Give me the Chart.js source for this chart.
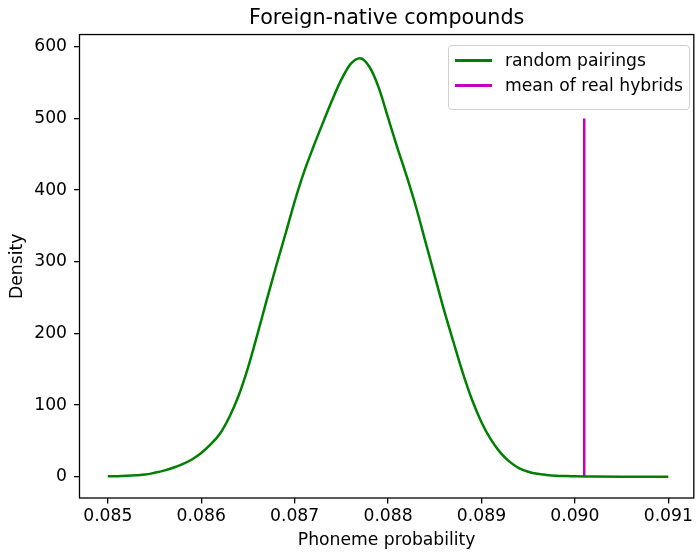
<!DOCTYPE html>
<html>
<head>
<meta charset="utf-8">
<script src="https://cdn.jsdelivr.net/npm/chart.js@4/dist/chart.umd.min.js"></script>
<style>
  body { margin: 0; background: #fff; }
  #wrap { position: relative; width: 696px; height: 555px; }
  #legend {
    position: absolute; left: 448px; top: 45px; width: 240px; height: 63px;
    border: 1px solid #d0d0d0; border-radius: 4px; background: rgba(255,255,255,0.8);
    font-family: "DejaVu Sans", sans-serif; font-size: 17.2px; color: #000;
  }
  .item { position: absolute; left: 0; height: 20px; line-height: 20px; white-space: nowrap; }
  .swatch { position: absolute; left: 6px; top: 9px; width: 37px; height: 2.5px; }
  .label { position: absolute; left: 56px; top: 0; }
</style>
</head>
<body>
<div id="wrap">
  <canvas id="myChart" width="696" height="555"></canvas>
  <div id="legend">
    <div class="item" style="top:4px"><span class="swatch" style="background:#008000"></span><span class="label">random pairings</span></div>
    <div class="item" style="top:29px"><span class="swatch" style="background:#bf00bf"></span><span class="label">mean of real hybrids</span></div>
  </div>
</div>
<script>
//KDE OF RANDOM PAIRINGS

var xValues = [0.0850, 0.0851, 0.0852, 0.0853, 0.0854, 0.0855, 0.0856, 0.0857, 0.0858, 0.0859,
  0.0860, 0.0861, 0.0862, 0.0863, 0.0864, 0.0865, 0.0866, 0.0867, 0.0868, 0.0869,
  0.0870, 0.0871, 0.0872, 0.0873, 0.0874, 0.0875, 0.0876, 0.0877, 0.0878, 0.0879,
  0.0880, 0.0881, 0.0882, 0.0883, 0.0884, 0.0885, 0.0886, 0.0887, 0.0888, 0.0889,
  0.0890, 0.0891, 0.0892, 0.0893, 0.0894, 0.0895, 0.0896, 0.0897, 0.0898, 0.0899,
  0.0900, 0.0902, 0.0905, 0.0910];
var yValues = [0.5, 0.8, 1.3, 2, 3, 5.5, 8.5, 12.5, 17.5, 24,
  33, 45, 60, 83, 113, 152, 198, 246, 293, 338,
  384, 425, 460, 493, 525, 554, 576, 584, 572, 543,
  501, 459, 419, 376, 328, 280, 232, 188, 145, 107,
  76, 52, 34, 21, 12, 7, 4, 2.5, 1.5, 1,
  0.6, 0.3, 0.1, 0];

//MEAN OF REAL HYBRIDS
var meanX = 0.0901;
var meanY = [0, 500];

var xTicks = [0.085, 0.086, 0.087, 0.088, 0.089, 0.090, 0.091];
var yTicks = [0, 100, 200, 300, 400, 500, 600];

var font = "'DejaVu Sans', sans-serif";

var boxPlugin = {
  id: "box",
  afterDatasetsDraw: function(chart) {
    var a = chart.chartArea, ctx = chart.ctx;
    ctx.save();
    ctx.strokeStyle = "#000";
    ctx.lineWidth = 1.3;
    ctx.strokeRect(a.left, a.top, a.right - a.left, a.bottom - a.top);
    ctx.restore();
  }
};

new Chart("myChart", {
  type: "scatter",
  data: {
    datasets: [{
      label: "random pairings",
      data: xValues.map(function(x, i) { return {x: x, y: yValues[i]}; }),
      showLine: true,
      borderColor: "#008000",
      borderWidth: 2.5,
      pointRadius: 0,
      cubicInterpolationMode: "monotone"
    }, {
      label: "mean of real hybrids",
      data: meanY.map(function(y) { return {x: meanX, y: y}; }),
      showLine: true,
      borderColor: "#bf00bf",
      borderWidth: 2.5,
      pointRadius: 0
    }]
  },
  options: {
    responsive: false,
    animation: false,
    layout: {padding: 0},
    plugins: {
      legend: {display: false},
      tooltip: {enabled: false},
      title: {
        display: true,
        fullSize: false,
        text: "Foreign-native compounds",
        color: "#000",
        font: {family: font, size: 20.7, weight: "normal"},
        padding: {top: 6.5, bottom: 3.2}
      }
    },
    scales: {
      x: {
        type: "linear",
        min: 0.084697,
        max: 0.091273,
        afterFit: function(axis) { axis.height = 57; },
        afterBuildTicks: function(axis) { axis.ticks = xTicks.map(function(v) { return {value: v}; }); },
        border: {display: false},
        grid: {drawOnChartArea: false, drawTicks: true, tickLength: 5.5, color: "#000", lineWidth: 1.3},
        ticks: {
          color: "#000", padding: 3, maxRotation: 0, autoSkip: false,
          font: {family: font, size: 17.2},
          callback: function(v) { return v.toFixed(3); }
        },
        title: {
          display: true, text: "Phoneme probability", color: "#000",
          font: {family: font, size: 17.2}, padding: {top: 0, bottom: 4.5}
        }
      },
      y: {
        min: -29.7,
        max: 617,
        afterFit: function(axis) { axis.width = 79.5; },
        afterBuildTicks: function(axis) { axis.ticks = yTicks.map(function(v) { return {value: v}; }); },
        border: {display: false},
        grid: {drawOnChartArea: false, drawTicks: true, tickLength: 5.5, color: "#000", lineWidth: 1.3},
        ticks: {
          color: "#000", padding: 7,
          font: {family: font, size: 17.2}
        },
        title: {
          display: true, text: "Density", color: "#000",
          font: {family: font, size: 17.2}, padding: {top: 7.5, bottom: 0}
        }
      }
    }
  },
  plugins: [boxPlugin]
});
</script>
</body>
</html>
